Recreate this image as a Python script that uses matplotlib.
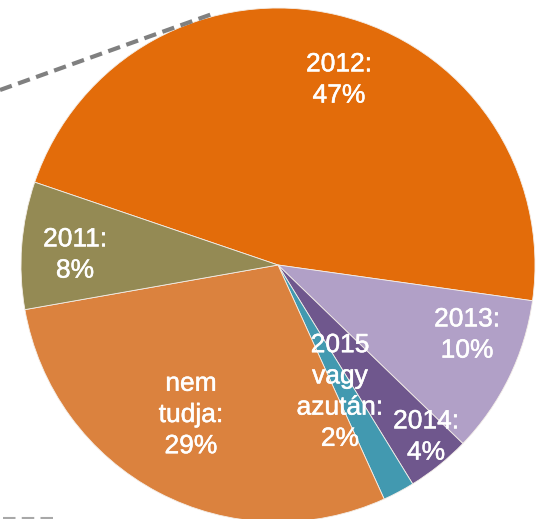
import matplotlib
matplotlib.use("Agg")
import matplotlib.pyplot as plt
import matplotlib.patheffects as pe

categories = ["2012:", "2013:", "2014:", "2015\nvagy\nazután:", "nem\ntudja:", "2011:"]
values = [47, 10, 4, 2, 29, 8]
pct_labels = ["47%", "10%", "4%", "2%", "29%", "8%"]
colors = ["#E36C0A", "#B1A0C7", "#6F578D", "#4299B0", "#DB823E", "#948A54"]

W, H = 539, 519
cx, cy, R = 278, 265, 257

fig = plt.figure(figsize=(W / 100, H / 100), dpi=100)
ax = fig.add_axes([0, 0, 1, 1])

ax.pie(values, colors=colors, startangle=161.2, counterclock=False,
       radius=1.0, center=(0, 0), frame=True,
       wedgeprops=dict(linewidth=0.6, edgecolor="#f4eee8"))
ax.set_xlim(-cx / R, (W - cx) / R)
ax.set_ylim(-(H - cy) / R, cy / R)
ax.set_aspect("auto")
ax.axis("off")

# label centres in pixel coordinates of the reference
label_px = [(339, 80), (467, 335), (426, 437), (340, 392), (191, 415), (75, 255)]
for cat, pct, (px, py) in zip(categories, pct_labels, label_px):
    ax.text((px - cx) / R, (cy - py) / R, cat + "\n" + pct, color="white",
            ha="center", va="center", fontsize=19, family="Liberation Sans",
            linespacing=1.38, multialignment="center",
            path_effects=[pe.withStroke(linewidth=0.35, foreground="white")])

def p2d(px, py):
    return (px - cx) / R, (cy - py) / R

# dashed connector lines
(x0, y0), (x1, y1) = p2d(0, 90), p2d(215, 13)
ax.plot([x0, x1], [y0, y1], color="#808080", lw=3, ls=(0, (3, 1.6)),
        solid_capstyle="butt", zorder=5)
(x0, y0), (x1, y1) = p2d(3, 518), p2d(55, 518)
ax.plot([x0, x1], [y0, y1], color="#a8a8a8", lw=1.5, ls=(0, (6, 3)),
        solid_capstyle="butt", zorder=5)

fig.savefig("out.png", dpi=100)
